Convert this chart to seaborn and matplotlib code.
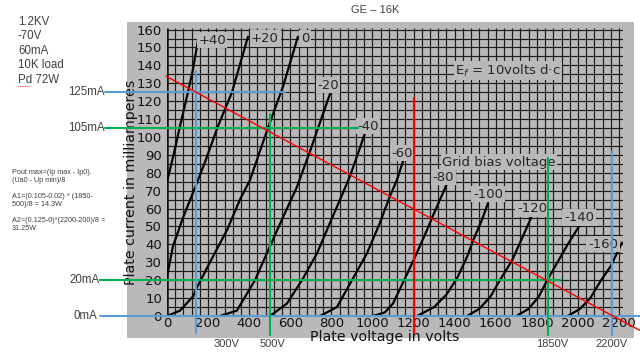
import numpy as np
import pandas as pd
import matplotlib
matplotlib.use("Agg")
import matplotlib.pyplot as plt
from matplotlib.patches import Rectangle
import seaborn as sns

sns.set_style("white")
plt.rcParams["font.family"] = ["DejaVu Sans"]

# plate curves: plate volts / plate mA, one pair per grid bias
v_p40 = [0, 15, 40, 63, 102, 125, 151]
i_p40 = [75, 82, 94, 106, 125, 137, 154]
v_p20 = [0, 29, 78, 127, 151, 185, 248, 316, 394]
i_p20 = [22, 39, 55, 69, 76, 86, 106, 125, 156]
v_0 = [0, 63, 127, 146, 209, 292, 355, 404, 491, 564, 637]
i_0 = [0, 3, 11, 16, 30, 48, 65, 76, 105, 128, 156]
v_m20 = [258, 340, 428, 501, 564, 632, 696, 735, 793]
i_m20 = [0, 3, 20, 39, 55, 72, 92, 105, 124]
v_m40 = [501, 584, 662, 730, 793, 842, 890, 930, 963]
i_m40 = [0, 7, 21, 35, 52, 65, 78, 91, 102]
v_m60 = [745, 827, 905, 973, 1036, 1085, 1119, 1150]
i_m60 = [0, 5, 21, 35, 52, 67, 76, 87]
v_m80 = [1002, 1060, 1100, 1158, 1207, 1265, 1294, 1340, 1370]
i_m80 = [0, 2, 7, 21, 33, 48, 56, 68, 76]
v_m100 = [1217, 1300, 1360, 1411, 1460, 1489, 1530, 1562]
i_m100 = [0, 5, 12, 21, 33, 42, 53, 63]
v_m120 = [1460, 1520, 1575, 1620, 1679, 1730, 1776]
i_m120 = [0, 4, 11, 20, 31, 44, 56]
v_m140 = [1700, 1760, 1810, 1850, 1900, 1950, 2010]
i_m140 = [0, 4, 11, 20, 30, 40, 51]
v_m160 = [1950, 2010, 2060, 2107, 2160, 2214]
i_m160 = [0, 4, 10, 19, 28, 41]

bias_labels = ["+40", "+20", "0", "-20", "-40", "-60", "-80", "-100", "-120", "-140", "-160"]
curves = [(v_p40, i_p40), (v_p20, i_p20), (v_0, i_0), (v_m20, i_m20), (v_m40, i_m40),
          (v_m60, i_m60), (v_m80, i_m80), (v_m100, i_m100), (v_m120, i_m120),
          (v_m140, i_m140), (v_m160, i_m160)]
# where each bias label sits (volts, mA)
label_pos = [(219, 154), (477, 155), (671, 155), (783, 129), (978, 106), (1144, 91),
             (1345, 77.5), (1562, 68), (1776, 60), (2005, 55), (2122, 40)]

# load line and the marked operating levels
load_v = [-5, 2300]
load_i = [134, -8]
h_levels = [125, 105, 20, 0]
v_levels = [141, 500, 1200, 1855, 2165]

x_ticks = list(range(0, 2201, 200))
y_ticks = list(range(0, 161, 10))

notes = ["1.2KV", "-70V", "60mA", "10K load", "Pd 72W"]
formula = ["Pout max=(Ip max - Ip0).", "(Ua0 - Up min)/8", "",
           "A1=(0.105-0.02) * (1850-", "500)/8 = 14.3W", "",
           "A2=(0.125-0)*(2200-200)/8 =", "31.25W"]

df = pd.concat([pd.DataFrame({"V": v, "I": i, "bias": b})
                for b, (v, i) in zip(bias_labels, curves)], ignore_index=True)

GRAY = "#b9b9b9"
BLUE = "#5b9bd5"
GREEN = "#00b050"
RED = "#ff0000"

fig = plt.figure(figsize=(6.4, 3.53), dpi=100)
fig.patch.set_facecolor("white")

# background layer in pixel units
bg = fig.add_axes([0, 0, 1, 1], zorder=0)
bg.set_xlim(0, 640)
bg.set_ylim(353, 0)
bg.axis("off")
sheet = Rectangle((127, 22), 507, 316, facecolor=GRAY, edgecolor="none")
bg.add_patch(sheet)

t = bg.text(131, 182, "Plate current in milliamperes", rotation=90, ha="center",
            va="center", fontsize=10.2, color="#111")
t.set_clip_path(sheet)
t = bg.text(385, 329.5, "Plate voltage in volts", ha="center", va="top",
            fontsize=10.2, color="#111")
t.set_clip_path(sheet)

note_font = dict(family=["Liberation Sans", "DejaVu Sans"], color="#404040")
for k, s in enumerate(notes):
    bg.text(18, 22 + k * 14.4, s, ha="left", va="center", fontsize=8.3, **note_font)
bg.plot([18, 30], [86, 86], color=RED, lw=0.6, ls=(0, (1, 1)))
for k, s in enumerate(formula):
    bg.text(12, 172 + k * 8.1, s, ha="left", va="center", fontsize=5.2, **note_font)

bg.text(375, 10, "GE \u2013 16K", ha="center", va="center", fontsize=8, **note_font)
for s, x, y in [("125mA", 105, 92), ("105mA", 105, 128), ("20mA", 100, 280), ("0mA", 97, 316)]:
    bg.text(x, y, s, ha="right", va="center", fontsize=8.3, **note_font)
for s, x in [("300V", 227), ("500V", 272), ("1850V", 552), ("2200V", 612)]:
    bg.text(x, 344, s, ha="center", va="center", fontsize=8, **note_font)

# the chart itself, in volts / mA
ax = fig.add_axes([167 / 640, 37 / 353, 456 / 640, 288.2 / 353], zorder=1)
ax.set_facecolor("none")
ax.set_xlim(0, 2219)
ax.set_ylim(0, 161)
for s in ax.spines.values():
    s.set_visible(False)

ax.vlines(np.arange(40, 2220, 40), 0, 161, color="#1c1c1c", lw=0.85, zorder=1)
ax.hlines(np.arange(5, 162, 5), 0, 2219, color="#1c1c1c", lw=0.85, zorder=1)
ax.vlines([0], 0, 161, color="#111", lw=1.8, zorder=1)
ax.hlines([0], 0, 2219, color="#111", lw=1.2, zorder=1)

sns.lineplot(data=df, x="V", y="I", units="bias", estimator=None, sort=False,
             color="black", lw=1.6, ax=ax, legend=False, zorder=3)

box = dict(boxstyle="square,pad=0.12", fc=GRAY, ec="none")
for s, (x, y) in zip(bias_labels, label_pos):
    ax.text(x, y, s, ha="center", va="center", fontsize=9.5, bbox=box, zorder=4)
ax.text(1659, 137, "E$_f$ = 10volts d\u00b7c", ha="center", va="center", fontsize=9.5,
        bbox=box, zorder=4)
ax.text(1616, 86, "Grid bias voltage", ha="center", va="center", fontsize=9.5,
        bbox=box, zorder=4)

ax.set_xticks(x_ticks)
ax.set_yticks(y_ticks)
ax.tick_params(length=0, labelsize=9.5, colors="#111")
ax.tick_params(axis="x", pad=0.8)
ax.tick_params(axis="y", pad=3.6)
ax.set_xlabel("")
ax.set_ylabel("")

# overlay of the worked example: operating levels and load line
line_kw = dict(clip_on=False, zorder=5)
h_spans = [(-302, 573, BLUE), (-302, 928, GREEN), (-326, 1912, GREEN), (-326, 2302, BLUE)]
for lvl, (x0, x1, c) in zip(h_levels, h_spans):
    ax.plot([x0, x1], [lvl, lvl], color=c, lw=1.5, **line_kw)
v_spans = [(137, -9.5, BLUE), (113, -10.6, GREEN), (122, -9.5, RED), (88, -10.6, GREEN),
           (92, -10.6, BLUE)]
for v, (y0, y1, c) in zip(v_levels, v_spans):
    ax.plot([v, v], [y0, y1], color=c, lw=1.5, **line_kw)
ax.plot(load_v, load_i, color=RED, lw=1.0, **line_kw)

fig.savefig("out.png", dpi=100)
